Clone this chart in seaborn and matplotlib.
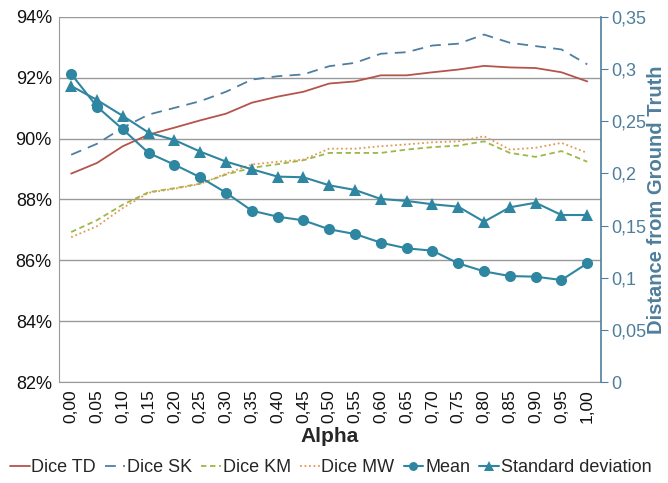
import numpy as np
import pandas as pd
import matplotlib
matplotlib.use("Agg")
import matplotlib.pyplot as plt
from matplotlib.ticker import FuncFormatter
import seaborn as sns

alpha = [0.00, 0.05, 0.10, 0.15, 0.20, 0.25, 0.30, 0.35, 0.40, 0.45, 0.50,
         0.55, 0.60, 0.65, 0.70, 0.75, 0.80, 0.85, 0.90, 0.95, 1.00]

# Dice scores (%), left axis
dice_td = [88.85, 89.20, 89.75, 90.13, 90.36, 90.60, 90.82, 91.18, 91.38, 91.54, 91.81,
           91.88, 92.08, 92.08, 92.18, 92.27, 92.39, 92.34, 92.32, 92.18, 91.88]
dice_sk = [89.47, 89.83, 90.36, 90.79, 91.01, 91.23, 91.54, 91.94, 92.05, 92.11, 92.38,
           92.49, 92.79, 92.84, 93.06, 93.12, 93.42, 93.15, 93.04, 92.93, 92.44]
dice_km = [86.93, 87.32, 87.83, 88.24, 88.37, 88.52, 88.82, 89.04, 89.16, 89.29, 89.53,
           89.53, 89.53, 89.64, 89.72, 89.77, 89.91, 89.53, 89.40, 89.59, 89.24]
dice_mw = [86.76, 87.12, 87.72, 88.22, 88.35, 88.51, 88.85, 89.15, 89.24, 89.31, 89.67,
           89.67, 89.75, 89.81, 89.88, 89.91, 90.08, 89.64, 89.70, 89.86, 89.53]

# distance from ground truth, right axis
dist_mean = [0.2953, 0.2640, 0.2423, 0.2196, 0.2084, 0.1963, 0.1815, 0.1643, 0.1585, 0.1550, 0.1464,
             0.1419, 0.1336, 0.1282, 0.1259, 0.1138, 0.1061, 0.1016, 0.1010, 0.0978, 0.1138]
dist_std = [0.2838, 0.2704, 0.2551, 0.2391, 0.2320, 0.2209, 0.2113, 0.2040, 0.1969, 0.1963, 0.1886,
            0.1841, 0.1755, 0.1736, 0.1704, 0.1681, 0.1537, 0.1675, 0.1719, 0.1601, 0.1601]

sns.set_style("white")
plt.rcParams["font.family"] = ["Liberation Sans", "DejaVu Sans"]

grey = "#999999"
blue_axis = "#4f7e9c"
teal = "#2f86a0"

fig, ax = plt.subplots(figsize=(6.68, 4.83), dpi=100)
fig.subplots_adjust(left=0.088, right=0.9, top=0.965, bottom=0.209)
ax2 = ax.twinx()

dice = pd.DataFrame({"alpha": alpha, "td": dice_td, "sk": dice_sk, "km": dice_km, "mw": dice_mw})
dist = pd.DataFrame({"alpha": alpha, "mean": dist_mean, "std": dist_std})

sns.lineplot(data=dice, x="alpha", y="td", ax=ax, color="#b5544b", lw=1.3, label="Dice TD")
sns.lineplot(data=dice, x="alpha", y="sk", ax=ax, color="#4f7fa0", lw=1.3,
             dashes=(6, 4), label="Dice SK")
sns.lineplot(data=dice, x="alpha", y="km", ax=ax, color="#9cb846", lw=1.3,
             dashes=(3, 2), label="Dice KM")
sns.lineplot(data=dice, x="alpha", y="mw", ax=ax, color="#e39a52", lw=1.3,
             dashes=(1, 1.5), label="Dice MW")

sns.lineplot(data=dist, x="alpha", y="mean", ax=ax2, color=teal, lw=1.5,
             marker="o", markersize=8, markeredgewidth=0, label="Mean")
sns.lineplot(data=dist, x="alpha", y="std", ax=ax2, color=teal, lw=1.5,
             marker="^", markersize=9, markeredgewidth=0, label="Standard deviation")

ax.set_ylim(82, 94)
ax.set_yticks(np.arange(82, 94.1, 2))
ax.yaxis.set_major_formatter(FuncFormatter(lambda v, p: f"{v:.0f}%"))
ax2.set_ylim(0, 0.35)
ax2.set_yticks(np.arange(0, 0.351, 0.05))
ax2.yaxis.set_major_formatter(
    FuncFormatter(lambda v, p: ("0" if abs(v) < 1e-9 else f"{v:.2f}".rstrip("0").replace(".", ","))))

ax.set_xlim(-0.024, 1.027)
ax.set_xticks(alpha)
ax.set_xticklabels([f"{a:.2f}".replace(".", ",") for a in alpha], rotation=90)

ax.grid(axis="y", color=grey, lw=1)
ax.set_axisbelow(True)
ax.spines["top"].set_visible(False)
ax.spines["right"].set_visible(False)
ax2.spines["top"].set_visible(False)
ax2.spines["left"].set_visible(False)
ax2.spines["bottom"].set_visible(False)
ax.spines["left"].set_color(grey)
ax.spines["bottom"].set_color(grey)
ax2.spines["right"].set_color(blue_axis)
ax2.spines["right"].set_linewidth(1.2)

ax.tick_params(axis="y", length=0, labelsize=13, colors="#111111", pad=5)
ax.tick_params(axis="x", direction="inout", length=6, color=grey, labelsize=12.5,
               labelcolor="#111111", pad=2)
ax2.tick_params(axis="y", direction="out", length=5, color=blue_axis, labelsize=13,
                labelcolor=blue_axis, pad=2)

ax.set_xlabel("Alpha", fontsize=15, fontweight="bold", labelpad=3)
ax.set_ylabel("")
ax2.set_ylabel("Distance from Ground Truth", fontsize=14.5, fontweight="bold",
               color=blue_axis, labelpad=1)

h1, l1 = ax.get_legend_handles_labels()
h2, l2 = ax2.get_legend_handles_labels()
ax.get_legend().remove()
ax2.get_legend().remove()
fig.legend(h1 + h2, l1 + l2, loc="lower center", bbox_to_anchor=(0.495, -0.02), ncol=6,
           frameon=False, fontsize=13, handlelength=1.1, handletextpad=0.1,
           columnspacing=0.5, markerscale=0.8)

fig.savefig("out.png", dpi=100)
